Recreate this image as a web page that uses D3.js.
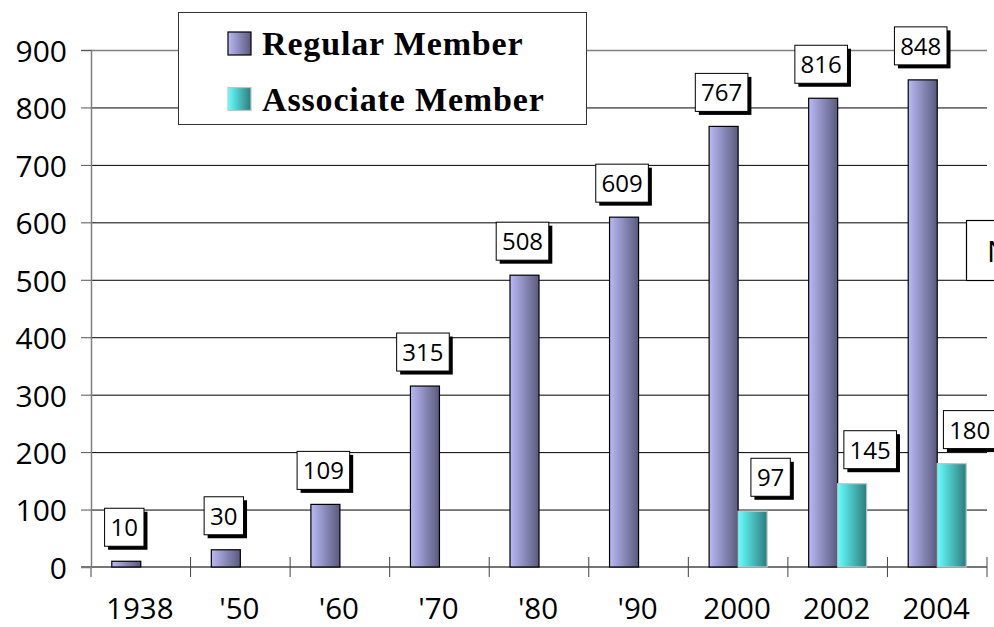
<!DOCTYPE html>
<html>
<head>
<meta charset="utf-8">
<script src="https://cdn.jsdelivr.net/npm/d3@7"></script>
<style>
    body { margin: 0; background: #fff; }
    .tickText { font-family: "Open Sans", "DejaVu Sans", sans-serif; font-size: 30px; fill: #000; }
    .valText { font-family: "Open Sans", "DejaVu Sans", sans-serif; font-size: 24px; fill: #000; }
    .legendText { font-family: "Liberation Serif", "Times New Roman", serif; font-weight: bold; font-size: 34px; letter-spacing: 0.85px; fill: #000; }
</style>
</head>
<body>
<div id="chart"></div>
<script>
// chart data
var categories = ["1938", "'50", "'60", "'70", "'80", "'90", "2000", "2002", "2004"];
var regularMembers = [10, 30, 109, 315, 508, 609, 767, 816, 848];
var associateMembers = [null, null, null, null, null, null, 97, 145, 180];
var seriesNames = ["Regular Member", "Associate Member"];
var yTicks = [0, 100, 200, 300, 400, 500, 600, 700, 800, 900];

var svgWidth = 994;
var svgHeight = 627;

var svg = d3.select("#chart")
    .append("svg")
    .attr("width", svgWidth)
    .attr("height", svgHeight);

var defs = svg.append("defs");

// bar gradients (left light -> right dark)
var grads = [
    { id: "gradReg", from: "#b9b9f6", to: "#5a5a7e" },
    { id: "gradAsc", from: "#66ffff", to: "#2c7c7c" }
];
grads.forEach(g => {
    var lg = defs.append("linearGradient")
        .attr("id", g.id)
        .attr("x1", "0%").attr("x2", "100%")
        .attr("y1", "0%").attr("y2", "0%");
    lg.append("stop").attr("offset", "0%").attr("stop-color", g.from);
    lg.append("stop").attr("offset", "100%").attr("stop-color", g.to);
});

// scales
var xScale = d3.scaleBand()
    .domain(categories)
    .range([91, 987])
    .padding(0);

var barW = 29;
var xInner = d3.scaleBand()
    .domain(seriesNames)
    .range([xScale.bandwidth() / 2 - barW, xScale.bandwidth() / 2 + barW]);

var yScale = d3.scaleLinear()
    .domain([0, 900])
    .range([567, 50]);

// gridlines
svg.append("g")
    .selectAll("line")
    .data(yTicks.filter(d => d > 0))
    .enter()
    .append("line")
    .attr("x1", 91)
    .attr("x2", 987)
    .attr("y1", d => yScale(d) + 0.5)
    .attr("y2", d => yScale(d) + 0.5)
    .attr("stroke", d => d === 900 ? "#808080" : "#000")
    .attr("stroke-width", d => d === 900 ? 1.5 : 1);

// y axis
var leftAxis = d3.axisLeft(yScale)
    .tickValues(yTicks)
    .tickSize(10)
    .tickPadding(14);

var yAxisG = svg.append("g")
    .attr("transform", "translate(91, 0)")
    .call(leftAxis);
yAxisG.attr("font-size", null).attr("font-family", null);
yAxisG.select(".domain").attr("stroke", "#808080").attr("stroke-width", 1.5);
yAxisG.selectAll(".tick line").attr("stroke", "#555");
yAxisG.selectAll(".tick text")
    .attr("class", "tickText")
    .attr("dy", "0.38em");

// x axis baseline with ticks at category boundaries
var xAxisG = svg.append("g");
xAxisG.append("line")
    .attr("x1", 81).attr("x2", 987)
    .attr("y1", yScale(0)).attr("y2", yScale(0))
    .attr("stroke", "#777").attr("stroke-width", 2);
xAxisG.selectAll("line.xtick")
    .data(categories)
    .enter()
    .append("line")
    .attr("class", "xtick")
    .attr("x1", d => xScale(d) + xScale.bandwidth())
    .attr("x2", d => xScale(d) + xScale.bandwidth())
    .attr("y1", yScale(0) - 10)
    .attr("y2", yScale(0) + 10)
    .attr("stroke", "#444");
xAxisG.append("line")
    .attr("x1", 91).attr("x2", 91)
    .attr("y1", yScale(0)).attr("y2", yScale(0) + 10)
    .attr("stroke", "#808080").attr("stroke-width", 1.5);
xAxisG.selectAll("text")
    .data(categories)
    .enter()
    .append("text")
    .attr("class", "tickText")
    .attr("x", d => xScale(d) + xScale.bandwidth() / 2 - 1)
    .attr("y", 619)
    .style("font-size", "29.5px")
    .attr("text-anchor", "middle")
    .text(d => d);

// bars
var seriesData = [
    { name: seriesNames[0], values: regularMembers, fill: "url(#gradReg)", stroke: "#000", labelDx: -2, gap: 15 },
    { name: seriesNames[1], values: associateMembers, fill: "url(#gradAsc)", stroke: "#b8c8c8", labelDx: 18, gap: 15 }
];

seriesData.forEach(s => {
    var pts = categories.map((c, i) => ({ cat: c, value: s.values[i] }))
        .filter(p => p.value !== null);

    svg.append("g")
        .selectAll("rect")
        .data(pts)
        .enter()
        .append("rect")
        .attr("x", d => xScale(d.cat) + xInner(s.name))
        .attr("y", d => yScale(d.value))
        .attr("width", xInner.bandwidth())
        .attr("height", d => yScale(0) - yScale(d.value))
        .attr("fill", s.fill)
        .attr("stroke", s.stroke)
        .attr("stroke-width", 1.2);

    // value label boxes
    var labels = svg.append("g")
        .selectAll("g")
        .data(pts)
        .enter()
        .append("g")
        .attr("transform", d => {
            var cx = xScale(d.cat) + xInner(s.name) + xInner.bandwidth() / 2 + s.labelDx;
            var by = yScale(d.value) - s.gap;
            return `translate(${cx}, ${by})`;
        });

    labels.each(function (d) {
        var g = d3.select(this);
        var w = String(d.value).length * 13.2 + 13;
        var h = 38;
        g.append("rect")
            .attr("x", -w / 2 + 3.5)
            .attr("y", -h + 3.5)
            .attr("width", w)
            .attr("height", h)
            .attr("fill", "#000");
        g.append("rect")
            .attr("x", -w / 2)
            .attr("y", -h)
            .attr("width", w)
            .attr("height", h)
            .attr("fill", "#fff")
            .attr("stroke", "#000")
            .attr("stroke-width", 1);
        g.append("text")
            .attr("class", "valText")
            .attr("x", 0)
            .attr("y", -10)
            .attr("text-anchor", "middle")
            .text(d.value);
    });
});

// legend
var legend = svg.append("g");
legend.append("rect")
    .attr("x", 178.5).attr("y", 12.5)
    .attr("width", 408).attr("height", 112)
    .attr("fill", "#fff")
    .attr("stroke", "#333")
    .attr("stroke-width", 1);

seriesData.forEach((s, i) => {
    legend.append("rect")
        .attr("x", 228).attr("y", 32 + i * 55.5)
        .attr("width", 23).attr("height", 23)
        .attr("fill", s.fill)
        .attr("stroke", i === 0 ? "#000" : "#b8c8c8")
        .attr("stroke-width", 1.2);
    legend.append("text")
        .attr("class", "legendText")
        .attr("x", 262)
        .attr("y", 55 + i * 56)
        .text(s.name);
});

// partially visible side note box on the right
var note = svg.append("g");
note.append("rect")
    .attr("x", 966.5).attr("y", 220.5)
    .attr("width", 120).attr("height", 60)
    .attr("fill", "#fff")
    .attr("stroke", "#000")
    .attr("stroke-width", 1.2);
note.append("text")
    .attr("class", "tickText")
    .attr("x", 987)
    .attr("y", 262)
    .text("No.");
</script>
</body>
</html>
